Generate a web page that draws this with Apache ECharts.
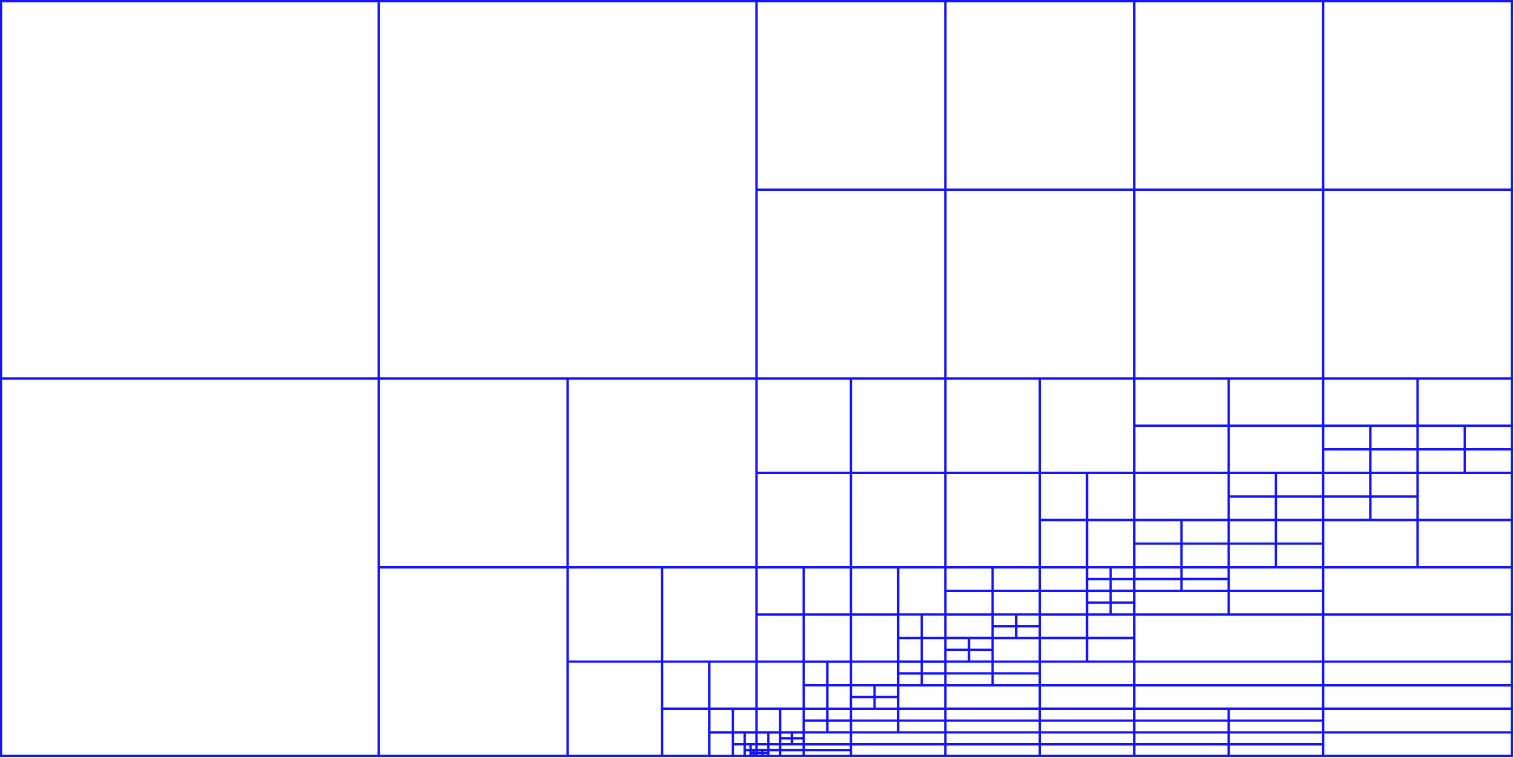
<!DOCTYPE html>
<html>
<head>
<meta charset="utf-8">
<script src="https://cdn.jsdelivr.net/npm/echarts/dist/echarts.min.js"></script>
<style>
  html, body { margin: 0; padding: 0; background: #ffffff; }
  #chart { width: 1514px; height: 758px; }
</style>
</head>
<body>
<div id="chart"></div>
<script>
// ---------------- DATA ----------------
// Leaf values are cell areas (1 unit = (1/16 of a large square side)^2).
// 'H' = children stacked top to bottom, 'V' = children side by side.
const q = (a, b, c, d) => ['H', ['V', a, b], ['V', c, d]];
const Q4 = v => q(v, v, v, v);

// left half: three large squares + a quadrant that keeps splitting into its corner
const bigSquares = [256, 256, 256];
const cornerSpiral = [64, 16, 4, 1, 0.25, 0.0625, 0.015625];

// right half, top: two blocks of four squares
const rightTopBlocks = [Q4(64), Q4(64)];

// right half, bottom-left quarter
const midBlockA = Q4(16);
const midBlockB = q(16, 16, 16, Q4(4));
const lowBlockA = ['H',
  ['V', 4, 4, 4, 4],
  ['V', 4, 4, 4, Q4(1)],
  ['V', 4, Q4(1), ['H', 2, Q4(0.5)], ['H', Q4(0.5), 2]],
  ['V', 1, 1, Q4(0.5), ['H', 1, 1], ['H', 1, 1]],
  ['V',
    ['H', ['V', 0.25, 0.25], ['V', ['H', 0.125, Q4(0.03125)], ['H', 0.125, 0.125]]],
    ['H', Q4(0.125), 0.25, 0.25],
    ['H', 1, 0.5, 0.5],
    ['H', 2, 2]]
];
const lowBlockB = ['H',
  ['V', 2, 2, 2, Q4(0.5)],
  ['V', 2, 2, 2, Q4(0.5)],
  ['V', 2, Q4(0.5), 2, 2],
  ['V', Q4(0.5), 2, 2, 2],
  ['V', Q4(1), 4],
  ['V', 4, 4],
  ['V', 2, 2], ['V', 2, 2], ['V', 2, 2], ['V', 2, 2]
];

// right half, bottom-right quarter
const splitCell = Q4(2);
const gridRows = [
  [8, 8, 8, 8],
  [8, 8, splitCell, splitCell],
  [8, splitCell, splitCell, 8],
  [splitCell, splitCell, 8, 8]
];
const stripsLeft = ['H', ['V', Q4(1), 4], ['V', 4, 4], 16, 8, 8,
  ['V', 2, 2], ['V', 2, 2], ['V', 2, 2], ['V', 2, 2]];
const stripsRight = ['H', 16, 16, 8, 8, 8, 8];

// ---------------- TREE ----------------
function spiral(vals) {
  const last = vals[vals.length - 1];
  let node = Q4(last);
  for (let i = vals.length - 2; i >= 0; i--) node = q(vals[i], vals[i], vals[i], node);
  return node;
}
const leftHalf = q(bigSquares[0], bigSquares[1], bigSquares[2], spiral(cornerSpiral));
const rightHalf = ['H',
  ['V', rightTopBlocks[0], rightTopBlocks[1]],
  ['V',
    q(midBlockA, midBlockB, lowBlockA, lowBlockB),
    ['H', ['H'].concat(gridRows.map(r => ['V'].concat(r))), ['V', stripsLeft, stripsRight]]
  ]
];
const rootSpec = ['V', leftHalf, rightHalf];

// Convert spec into ECharts treemap nodes (squarify is steered with
// near-zero separator items so that each group splits the intended way).
const BLUE = '#1414ff';
const FILL = '#ffffff';
const LINE = 1.2;
const EPS = 1e-12;
const HIDDEN = { borderWidth: 0, color: 'rgba(0,0,0,0)', borderColor: 'rgba(0,0,0,0)' };
function total(s) { return typeof s === 'number' ? s : s.slice(1).reduce((a, c) => a + total(c), 0); }
function build(spec, w, h) {
  if (typeof spec === 'number') {
    return { value: spec, itemStyle: { color: FILL, borderColor: BLUE, borderWidth: LINE } };
  }
  const dir = spec[0];
  const kids = spec.slice(1);
  const vals = kids.map(total);
  const sum = vals.reduce((a, b) => a + b, 0);
  const dims = vals.map(v => dir === 'H' ? [w, v / w] : [v / h, h]);
  const nodes = kids.map((k, i) => build(k, dims[i][0], dims[i][1]));
  const children = [];
  let rw = w, rh = h;
  for (let i = 0; i < nodes.length; i++) {
    const wide = rw >= rh;
    if ((dir === 'H') === wide) { children.push.apply(children, nodes.slice(i)); break; }
    children.push({ value: sum * EPS, itemStyle: HIDDEN }, nodes[i]);
    if (dir === 'H') rh -= dims[i][1]; else rw -= dims[i][0];
  }
  return { children: children, itemStyle: { borderWidth: 0, color: FILL, borderColor: BLUE } };
}
const treeData = build(rootSpec, 64, 32).children;

const chart = echarts.init(document.getElementById('chart'), null, { renderer: 'canvas' });
chart.setOption({
  animation: false,
  tooltip: { show: false },
  color: [FILL],
  series: [{
    type: 'treemap',
    left: 0, top: 0, width: 1513, height: 757,
    squareRatio: 1000,
    sort: false,
    roam: false,
    nodeClick: false,
    breadcrumb: { show: false },
    label: { show: false },
    upperLabel: { show: false },
    color: [FILL],
    levels: [{ color: [FILL], itemStyle: { borderWidth: 1, borderColor: BLUE, color: FILL } }],
    itemStyle: { borderWidth: 1, gapWidth: 0, borderColor: BLUE, color: FILL },
    emphasis: { disabled: true },
    data: treeData
  }]
});
</script>
</body>
</html>
